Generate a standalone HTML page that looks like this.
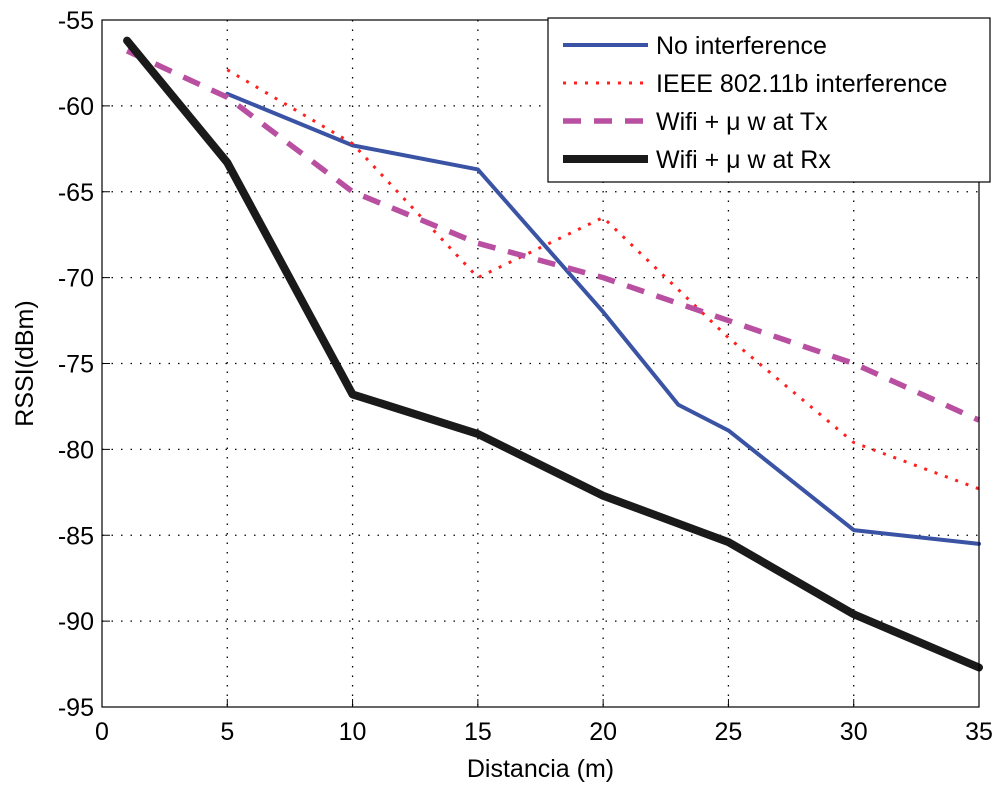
<!DOCTYPE html>
<html><head><meta charset="utf-8"><style>
body{margin:0;background:#fff;}
svg{font-family:"Liberation Sans",Arial,sans-serif;}
</style></head><body>
<svg id="chart" width="1000" height="793" viewBox="0 0 1000 793">
<g id="grid"></g>
<g id="series"></g>
<g id="axes"></g>
<g id="legend"></g>
</svg>
<script>
const xTicks=[0,5,10,15,20,25,30,35];
const yTicks=[-55,-60,-65,-70,-75,-80,-85,-90,-95];
const noIntX=[5,10,15,20,23,25,30,35];
const noIntY=[-59.3,-62.3,-63.7,-72,-77.4,-78.9,-84.7,-85.5];
const ieeeX=[5,10,15,20,25,30,35];
const ieeeY=[-57.9,-62.2,-70,-66.5,-73.5,-79.6,-82.3];
const txX=[1,5,10,15,20,25,30,35];
const txY=[-56.8,-59.5,-65,-68,-70,-72.5,-75,-78.3];
const rxX=[1,5,10,15,20,25,30,35];
const rxY=[-56.2,-63.3,-76.8,-79.1,-82.7,-85.4,-89.6,-92.7];
const L=102,R=979,T=20,B=707;
const sx=v=>L+(v-0)/35*(R-L);
const sy=v=>T+(-55-v)/40*(B-T);
const NS="http://www.w3.org/2000/svg";
function mk(tag,attrs,parent){const e=document.createElementNS(NS,tag);for(const k in attrs)e.setAttribute(k,attrs[k]);parent.appendChild(e);return e;}
const grid=document.getElementById('grid'),axes=document.getElementById('axes'),ser=document.getElementById('series'),leg=document.getElementById('legend');
xTicks.forEach(t=>{
 if(t>0&&t<35){const g=mk('line',{x1:sx(t),x2:sx(t),y1:T,y2:B,stroke:'#000','stroke-width':1.3,'stroke-dasharray':'1.5 8'},grid);
 
 }
 const tk=mk('line',{x1:sx(t),x2:sx(t),y1:B,y2:B-8,stroke:'#000','stroke-width':1},axes);
 
 
 const tx=mk('text',{x:sx(t),y:B+33,'font-size':25,'text-anchor':'middle'},axes);tx.textContent=t;
 
 
});
yTicks.forEach(t=>{
 if(t<-55&&t>-95){const g=mk('line',{x1:L,x2:R,y1:sy(t),y2:sy(t),stroke:'#000','stroke-width':1.3,'stroke-dasharray':'1.5 8'},grid);
 
 }
 const tk=mk('line',{x1:L,x2:L+8,y1:sy(t),y2:sy(t),stroke:'#000','stroke-width':1},axes);
 
 
 const tx=mk('text',{x:L-8,y:sy(t)+9,'font-size':25,'text-anchor':'end'},axes);tx.textContent=t;
 
 
});
const box=mk('rect',{x:L,y:T,width:R-L,height:B-T,fill:'none',stroke:'#000','stroke-width':1.2},axes);


const xl=mk('text',{x:(L+R)/2,y:777,'font-size':25,'text-anchor':'middle'},axes);xl.textContent='Distancia (m)';


const yl=mk('text',{x:0,y:0,'font-size':25,'text-anchor':'middle',transform:'translate(33,'+((T+B)/2)+') rotate(-90)'},axes);yl.textContent='RSSI(dBm)';


const styles=[
 {xs:noIntX,ys:noIntY,stroke:'#3a53a4',w:4,dash:'',name:'no-interference-line',label:'No interference'},
 {xs:ieeeX,ys:ieeeY,stroke:'#ff2020',w:3,dash:'3 8',name:'ieee-interference-line',label:'IEEE 802.11b interference'},
 {xs:txX,ys:txY,stroke:'#b94fa0',w:5.5,dash:'18 13',name:'wifi-tx-line',label:'Wifi + \u03bc w at Tx'},
 {xs:rxX,ys:rxY,stroke:'#1a1a1a',w:8,dash:'',name:'wifi-rx-line',label:'Wifi + \u03bc w at Rx'}];
styles.forEach(s=>{
 const pts=s.xs.map((x,i)=>sx(x)+','+sy(s.ys[i])).join(' ');
 const p=mk('polyline',{points:pts,fill:'none',stroke:s.stroke,'stroke-width':s.w,'stroke-dasharray':s.dash,'stroke-linejoin':'round','stroke-linecap':s.dash?'butt':'round'},ser);
 
 
});
const lb=mk('rect',{x:548,y:18,width:442,height:164,fill:'#fff',stroke:'#000','stroke-width':1.2},leg);


styles.forEach((s,i)=>{
 const y=45+i*38;
 const l=mk('line',{x1:563,x2:648,y1:y,y2:y,stroke:s.stroke,'stroke-width':s.w,'stroke-dasharray':s.dash},leg);
 
 
 const t=mk('text',{x:656,y:y+9,'font-size':25},leg);t.textContent=s.label;
 
 
});
</script>
</body></html>
